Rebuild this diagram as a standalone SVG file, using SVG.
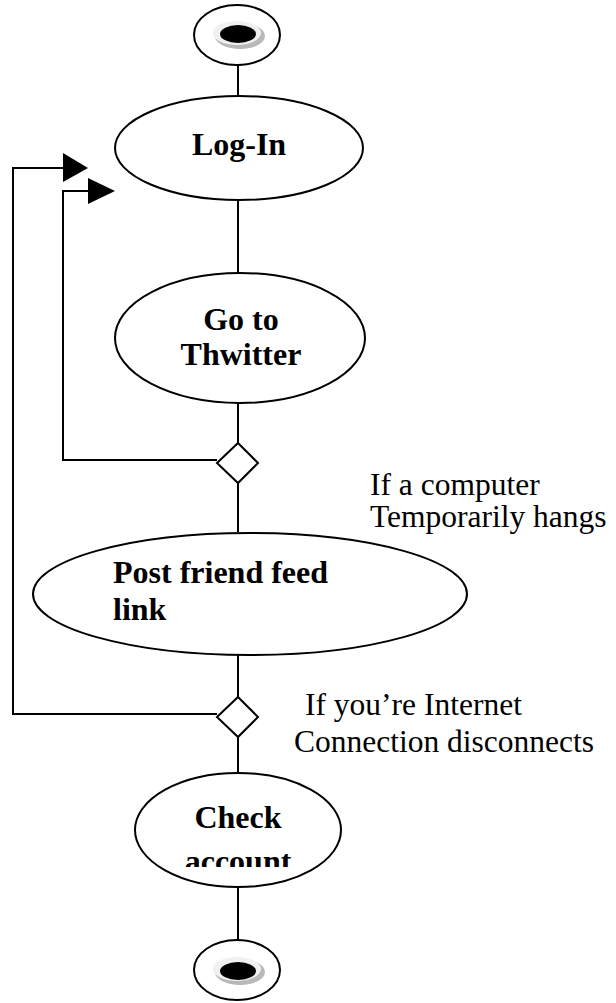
<svg xmlns="http://www.w3.org/2000/svg" width="616" height="1003" viewBox="0 0 616 1003">
<style>
.ln{stroke:#000;stroke-width:2;fill:none}
.nd{stroke:#000;stroke-width:2;fill:#fff}
.bt{font-family:"Liberation Serif",serif;font-weight:bold;font-size:32px;fill:#000}
.lb{font-family:"Liberation Serif",serif;font-size:31.5px;fill:#000}
.arr{fill:#000;stroke:none}
</style>
<defs>
<clipPath id="clipCheck"><rect x="0" y="0" width="616" height="867"/></clipPath>
</defs>
<rect width="616" height="1003" fill="#fff"/>
<g id="connectors">
<line class="ln" x1="238" y1="65" x2="238" y2="96"/>
<line class="ln" x1="238" y1="200" x2="238" y2="272"/>
<line class="ln" x1="238" y1="403" x2="238" y2="443"/>
<line class="ln" x1="238" y1="483" x2="238" y2="532"/>
<line class="ln" x1="238" y1="655" x2="238" y2="697"/>
<line class="ln" x1="238" y1="737" x2="238" y2="773"/>
<line class="ln" x1="238" y1="887" x2="238" y2="940"/>
<polyline class="ln" points="217,460 63,460 63,191 88,191"/>
<polygon class="arr" points="88,178 115,191 88,204"/>
<polyline class="ln" points="217,714 13,714 13,168 63,168"/>
<polygon class="arr" points="63,153 88,168 63,182"/>
</g>
<g id="start">
<ellipse class="nd" cx="237" cy="35" rx="43" ry="30"/>
<ellipse cx="240" cy="36" rx="25" ry="13" fill="#b8b8b8"/>
<ellipse cx="237" cy="33" rx="24" ry="12" fill="#f0f0f0"/>
<ellipse cx="238" cy="34" rx="18" ry="9" fill="#000"/>
</g>
<g id="login">
<ellipse class="nd" cx="239" cy="148" rx="124" ry="52"/>
<text class="bt" x="239" y="155" text-anchor="middle">Log-In</text>
</g>
<g id="goto">
<ellipse class="nd" cx="240" cy="338" rx="125" ry="65"/>
<text class="bt" x="241" y="330" text-anchor="middle">Go to</text>
<text class="bt" x="241" y="365" text-anchor="middle">Thwitter</text>
</g>
<g id="decision1">
<polygon class="nd" points="238,443 258,463 238,483 217,463"/>
</g>
<g id="post">
<ellipse class="nd" cx="250" cy="594" rx="217" ry="61"/>
<text class="bt" x="113" y="583">Post friend feed</text>
<text class="bt" x="113" y="620">link</text>
</g>
<g id="decision2">
<polygon class="nd" points="238,697 258,717 238,737 217,717"/>
</g>
<g id="check">
<ellipse class="nd" cx="238" cy="830" rx="103" ry="57"/>
<text class="bt" x="238" y="828" text-anchor="middle">Check</text>
<text class="bt" x="238" y="872" text-anchor="middle" clip-path="url(#clipCheck)">account</text>
</g>
<g id="end">
<ellipse class="nd" cx="237" cy="970" rx="43" ry="30"/>
<ellipse cx="240" cy="972" rx="25" ry="13" fill="#b8b8b8"/>
<ellipse cx="237" cy="969" rx="24" ry="12" fill="#f0f0f0"/>
<ellipse cx="238" cy="971" rx="18" ry="9" fill="#000"/>
</g>
<g id="labels">
<text class="lb" x="370" y="495">If a computer</text>
<text class="lb" x="370" y="527">Temporarily hangs</text>
<text class="lb" x="305" y="715">If you’re Internet</text>
<text class="lb" x="294" y="752">Connection disconnects</text>
</g>
</svg>
